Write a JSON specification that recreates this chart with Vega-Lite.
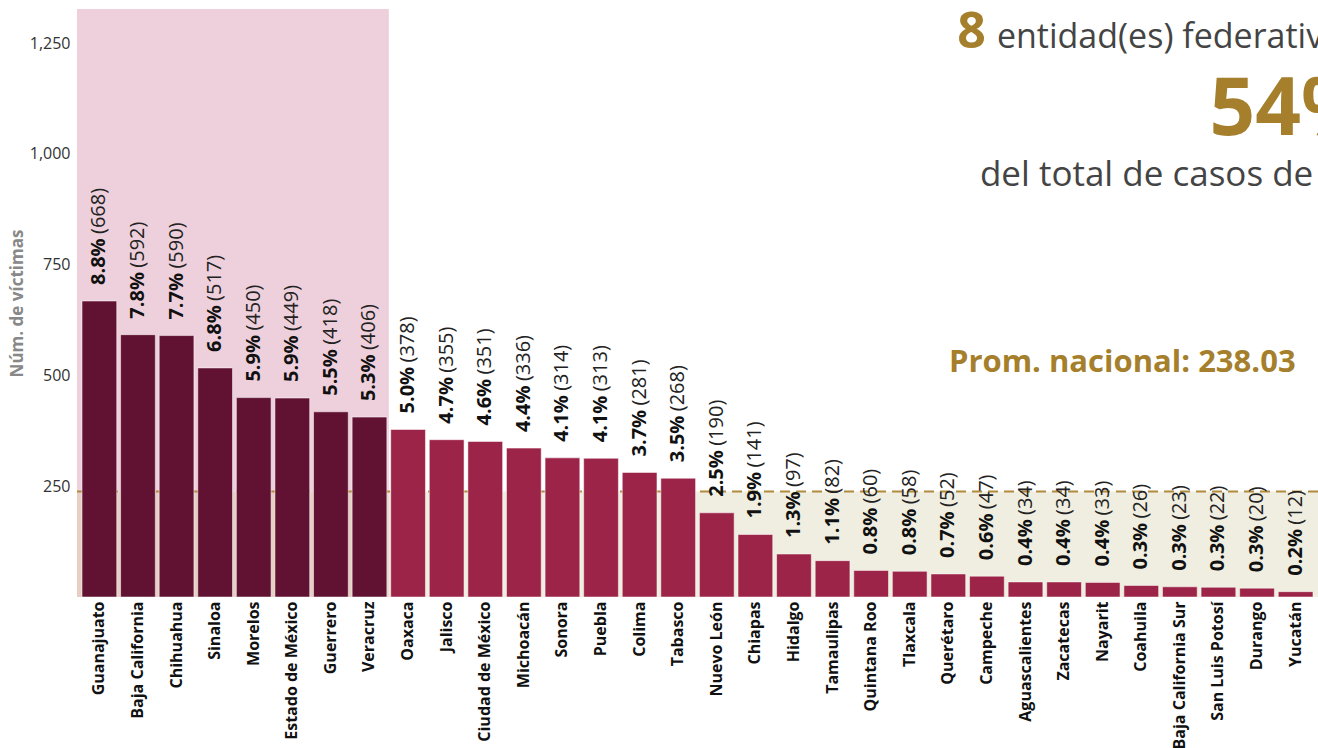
{
  "$schema": "https://vega.github.io/schema/vega-lite/v6.json",
  "width": 1241,
  "height": 588,
  "autosize": {"type": "none"},
  "padding": {"left": 77, "top": 9, "right": 0, "bottom": 151},
  "background": "white",
  "config": {
    "font": "Open Sans",
    "view": {"stroke": null},
    "axis": {"domain": false, "ticks": false, "grid": false},
    "axisX": {"labelAngle": -90, "labelFontSize": 16, "labelFontWeight": "bold", "labelColor": "#111111", "labelPadding": 4, "labelLimit": 300},
    "axisY": {"labelFontSize": 16, "labelColor": "#333333", "labelPadding": 7, "titleFontSize": 17, "titleFontWeight": "bold", "titleColor": "#888888", "titlePadding": 3}
  },
  "data": {"name": "estados"},
  "datasets": {
    "estados": [
      {"estado": "Guanajuato", "victimas": 668, "porcentaje": 0.088, "grupo": "top"},
      {"estado": "Baja California", "victimas": 592, "porcentaje": 0.078, "grupo": "top"},
      {"estado": "Chihuahua", "victimas": 590, "porcentaje": 0.077, "grupo": "top"},
      {"estado": "Sinaloa", "victimas": 517, "porcentaje": 0.068, "grupo": "top"},
      {"estado": "Morelos", "victimas": 450, "porcentaje": 0.059, "grupo": "top"},
      {"estado": "Estado de México", "victimas": 449, "porcentaje": 0.059, "grupo": "top"},
      {"estado": "Guerrero", "victimas": 418, "porcentaje": 0.055, "grupo": "top"},
      {"estado": "Veracruz", "victimas": 406, "porcentaje": 0.053, "grupo": "top"},
      {"estado": "Oaxaca", "victimas": 378, "porcentaje": 0.050, "grupo": "resto"},
      {"estado": "Jalisco", "victimas": 355, "porcentaje": 0.047, "grupo": "resto"},
      {"estado": "Ciudad de México", "victimas": 351, "porcentaje": 0.046, "grupo": "resto"},
      {"estado": "Michoacán", "victimas": 336, "porcentaje": 0.044, "grupo": "resto"},
      {"estado": "Sonora", "victimas": 314, "porcentaje": 0.041, "grupo": "resto"},
      {"estado": "Puebla", "victimas": 313, "porcentaje": 0.041, "grupo": "resto"},
      {"estado": "Colima", "victimas": 281, "porcentaje": 0.037, "grupo": "resto"},
      {"estado": "Tabasco", "victimas": 268, "porcentaje": 0.035, "grupo": "resto"},
      {"estado": "Nuevo León", "victimas": 190, "porcentaje": 0.025, "grupo": "resto"},
      {"estado": "Chiapas", "victimas": 141, "porcentaje": 0.019, "grupo": "resto"},
      {"estado": "Hidalgo", "victimas": 97, "porcentaje": 0.013, "grupo": "resto"},
      {"estado": "Tamaulipas", "victimas": 82, "porcentaje": 0.011, "grupo": "resto"},
      {"estado": "Quintana Roo", "victimas": 60, "porcentaje": 0.008, "grupo": "resto"},
      {"estado": "Tlaxcala", "victimas": 58, "porcentaje": 0.008, "grupo": "resto"},
      {"estado": "Querétaro", "victimas": 52, "porcentaje": 0.007, "grupo": "resto"},
      {"estado": "Campeche", "victimas": 47, "porcentaje": 0.006, "grupo": "resto"},
      {"estado": "Aguascalientes", "victimas": 34, "porcentaje": 0.004, "grupo": "resto"},
      {"estado": "Zacatecas", "victimas": 34, "porcentaje": 0.004, "grupo": "resto"},
      {"estado": "Nayarit", "victimas": 33, "porcentaje": 0.004, "grupo": "resto"},
      {"estado": "Coahuila", "victimas": 26, "porcentaje": 0.003, "grupo": "resto"},
      {"estado": "Baja California Sur", "victimas": 23, "porcentaje": 0.003, "grupo": "resto"},
      {"estado": "San Luis Potosí", "victimas": 22, "porcentaje": 0.003, "grupo": "resto"},
      {"estado": "Durango", "victimas": 20, "porcentaje": 0.003, "grupo": "resto"},
      {"estado": "Yucatán", "victimas": 12, "porcentaje": 0.002, "grupo": "resto"}
    ]
  },
  "layer": [
    {
      "data": {"values": [{"y0": 238.03, "y1": 1327}]},
      "mark": {"type": "rect", "color": "#eed0dc"},
      "encoding": {
        "x": {"datum": "Guanajuato", "type": "nominal", "bandPosition": -0.144},
        "x2": {"datum": "Veracruz", "bandPosition": 1.057},
        "y": {"field": "y0", "type": "quantitative"},
        "y2": {"field": "y1"}
      }
    },
    {
      "data": {"values": [{"y0": 0, "y1": 238.03}]},
      "mark": {"type": "rect", "color": "#e6d0c6"},
      "encoding": {
        "x": {"datum": "Guanajuato", "type": "nominal", "bandPosition": -0.144},
        "x2": {"datum": "Veracruz", "bandPosition": 1.057},
        "y": {"field": "y0", "type": "quantitative"},
        "y2": {"field": "y1"}
      }
    },
    {
      "data": {"values": [{"y0": 0, "y1": 238.03}]},
      "mark": {"type": "rect", "color": "#efeee0"},
      "encoding": {
        "x": {"datum": "Oaxaca", "type": "nominal", "bandPosition": -0.055},
        "x2": {"datum": "Yucatán", "bandPosition": 1.144},
        "y": {"field": "y0", "type": "quantitative"},
        "y2": {"field": "y1"}
      }
    },
    {
      "data": {"values": [{"promedio": 238.03}]},
      "mark": {"type": "rule", "strokeDash": [10, 6], "strokeWidth": 2, "color": "#B08A3E"},
      "encoding": {"y": {"field": "promedio", "type": "quantitative"}}
    },
    {
      "mark": {"type": "bar", "stroke": "#ffffff", "strokeOpacity": 0.5, "strokeWidth": 1},
      "encoding": {
        "x": {
          "field": "estado", "type": "nominal", "sort": null,
          "scale": {
            "domain": ["Guanajuato", "Baja California", "Chihuahua", "Sinaloa", "Morelos", "Estado de México", "Guerrero", "Veracruz", "Oaxaca", "Jalisco", "Ciudad de México", "Michoacán", "Sonora", "Puebla", "Colima", "Tabasco", "Nuevo León", "Chiapas", "Hidalgo", "Tamaulipas", "Quintana Roo", "Tlaxcala", "Querétaro", "Campeche", "Aguascalientes", "Zacatecas", "Nayarit", "Coahuila", "Baja California Sur", "San Luis Potosí", "Durango", "Yucatán"],
            "paddingInner": 0.1, "paddingOuter": 0.13
          },
          "axis": {"title": null}
        },
        "y": {
          "field": "victimas", "type": "quantitative",
          "scale": {"domain": [0, 1327], "nice": false},
          "axis": {"values": [250, 500, 750, 1000, 1250], "format": ",d", "title": "Núm. de víctimas"}
        },
        "color": {"field": "grupo", "type": "nominal", "scale": {"domain": ["top", "resto"], "range": ["#611232", "#9D2449"]}, "legend": null}
      }
    },
    {
      "mark": {"type": "text", "angle": 270, "align": "left", "baseline": "middle", "dx": 16, "fontSize": 20, "fontWeight": "bold", "color": "#111111"},
      "encoding": {
        "x": {"field": "estado", "type": "nominal", "sort": null},
        "y": {"field": "victimas", "type": "quantitative"},
        "text": {"field": "porcentaje", "type": "quantitative", "format": ".1%"}
      }
    },
    {
      "mark": {"type": "text", "angle": 270, "align": "left", "baseline": "middle", "dx": 67, "fontSize": 20, "fontWeight": "normal", "color": "#222222", "text": {"expr": "'(' + datum.victimas + ')'"}},
      "encoding": {
        "x": {"field": "estado", "type": "nominal", "sort": null},
        "y": {"field": "victimas", "type": "quantitative"}
      }
    },
    {
      "data": {"values": [{"texto": "8"}]},
      "mark": {"type": "text", "align": "left", "baseline": "alphabetic", "dx": 9, "fontSize": 50, "fontWeight": "bold", "color": "#A57F2C"},
      "encoding": {
        "x": {"datum": "Querétaro", "type": "nominal"},
        "y": {"datum": 1239, "type": "quantitative"},
        "text": {"field": "texto"}
      }
    },
    {
      "data": {"values": [{"texto": "entidad(es) federativas concentran el"}]},
      "mark": {"type": "text", "align": "left", "baseline": "alphabetic", "dx": 10, "fontSize": 34, "color": "#444444"},
      "encoding": {
        "x": {"datum": "Campeche", "type": "nominal"},
        "y": {"datum": 1239, "type": "quantitative"},
        "text": {"field": "texto"}
      }
    },
    {
      "data": {"values": [{"texto": "54%"}]},
      "mark": {"type": "text", "align": "left", "baseline": "alphabetic", "dx": -9, "fontSize": 80, "fontWeight": "bold", "color": "#A57F2C"},
      "encoding": {
        "x": {"datum": "San Luis Potosí", "type": "nominal"},
        "y": {"datum": 1043, "type": "quantitative"},
        "text": {"field": "texto"}
      }
    },
    {
      "data": {"values": [{"texto": "del total de casos de víctimas"}]},
      "mark": {"type": "text", "align": "left", "baseline": "alphabetic", "dx": -7, "fontSize": 35, "color": "#444444"},
      "encoding": {
        "x": {"datum": "Campeche", "type": "nominal"},
        "y": {"datum": 927, "type": "quantitative"},
        "text": {"field": "texto"}
      }
    },
    {
      "data": {"values": [{"texto": "Prom. nacional: 238.03"}]},
      "mark": {"type": "text", "align": "right", "baseline": "alphabetic", "dx": 0, "fontSize": 31, "fontWeight": "bold", "color": "#A57F2C"},
      "encoding": {
        "x": {"datum": "Yucatán", "type": "nominal"},
        "y": {"datum": 508, "type": "quantitative"},
        "text": {"field": "texto"}
      }
    }
  ]
}
